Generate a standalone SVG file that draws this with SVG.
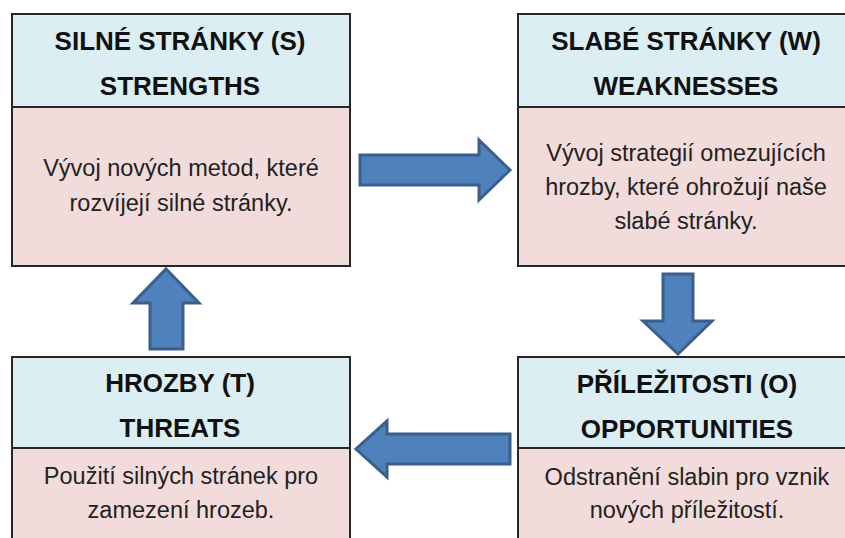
<svg xmlns="http://www.w3.org/2000/svg" width="845" height="538" viewBox="0 0 845 538">
<style>
.hd{fill:#DAEEF3}
.bd{fill:#F2DCDB}
.ln{fill:none;stroke:#262626;stroke-width:2}
.h{font-family:"Liberation Sans",Arial,sans-serif;font-weight:bold;font-size:26px;fill:#111;text-anchor:middle}
.t{font-family:"Liberation Sans",Arial,sans-serif;font-size:23.5px;fill:#222;text-anchor:middle}
.ar{fill:#4F81BD;stroke:#3A5F8B;stroke-width:3;stroke-linejoin:miter}
</style>
<rect width="845" height="538" fill="#fff"/>
<g id="strengths">
<rect class="hd" x="12" y="14" width="338" height="93"/>
<rect class="bd" x="12" y="107" width="338" height="159"/>
<rect class="ln" x="12" y="14" width="338" height="252"/>
<line class="ln" x1="12" y1="107" x2="350" y2="107"/>
<text class="h" x="180" y="50">SILNÉ STRÁNKY (S)</text>
<text class="h" x="180" y="95">STRENGTHS</text>
<text class="t" x="181" y="176">Vývoj nových metod, které</text>
<text class="t" x="181" y="211">rozvíjejí silné stránky.</text>
</g>
<g id="weaknesses">
<rect class="hd" x="518" y="14" width="338" height="93"/>
<rect class="bd" x="518" y="107" width="338" height="159"/>
<rect class="ln" x="518" y="14" width="338" height="252"/>
<line class="ln" x1="518" y1="107" x2="856" y2="107"/>
<text class="h" x="686" y="50">SLABÉ STRÁNKY (W)</text>
<text class="h" x="686" y="95">WEAKNESSES</text>
<text class="t" x="686" y="161">Vývoj strategií omezujících</text>
<text class="t" x="686" y="195">hrozby, které ohrožují naše</text>
<text class="t" x="686" y="229">slabé stránky.</text>
</g>
<g id="threats">
<rect class="hd" x="12" y="357" width="338" height="91"/>
<rect class="bd" x="12" y="448" width="338" height="100"/>
<rect class="ln" x="12" y="357" width="338" height="191"/>
<line class="ln" x1="12" y1="448" x2="350" y2="448"/>
<text class="h" x="180" y="392">HROZBY (T)</text>
<text class="h" x="180" y="437">THREATS</text>
<text class="t" x="181" y="484">Použití silných stránek pro</text>
<text class="t" x="181" y="518">zamezení hrozeb.</text>
</g>
<g id="opportunities">
<rect class="hd" x="518" y="357" width="338" height="91"/>
<rect class="bd" x="518" y="448" width="338" height="100"/>
<rect class="ln" x="518" y="357" width="338" height="191"/>
<line class="ln" x1="518" y1="448" x2="856" y2="448"/>
<text class="h" x="687" y="393">PŘÍLEŽITOSTI (O)</text>
<text class="h" x="687" y="438">OPPORTUNITIES</text>
<text class="t" x="687" y="485">Odstranění slabin pro vznik</text>
<text class="t" x="687" y="518">nových příležitostí.</text>
</g>
<g id="connectors">
<path class="ar" d="M360,155 L479,155 L479,140 L510,170 L479,200 L479,185 L360,185 Z"/>
<path class="ar" d="M663,274 L693,274 L693,321 L712,321 L678,354 L643,321 L663,321 Z"/>
<path class="ar" d="M510,434 L387,434 L387,421 L356,449 L387,477 L387,464 L510,464 Z"/>
<path class="ar" d="M150,349 L150,303 L133,303 L166,269 L199,303 L183,303 L183,349 Z"/>
</g>
</svg>
